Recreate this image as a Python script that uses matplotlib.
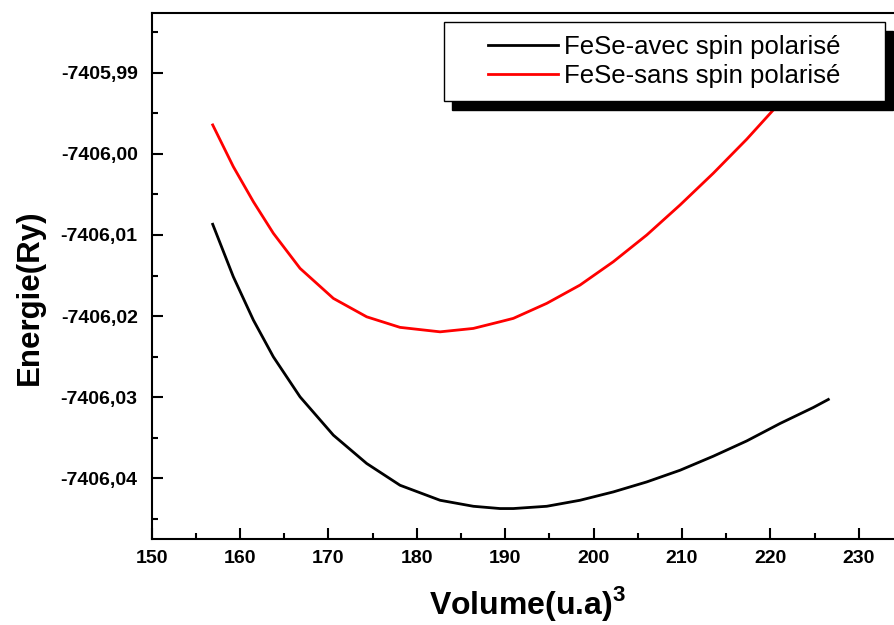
import matplotlib
matplotlib.use("Agg")
import matplotlib.pyplot as plt
from matplotlib.patches import Rectangle
from matplotlib.ticker import MultipleLocator, FuncFormatter

plt.rcParams['font.family'] = ['Liberation Sans', 'DejaVu Sans']
plt.rcParams['mathtext.fontset'] = 'custom'
plt.rcParams['mathtext.bf'] = 'Liberation Sans:bold'
plt.rcParams['mathtext.rm'] = 'Liberation Sans'

# Data (volume in u.a^3, energy in Ry)
vol = [156.92, 159.25, 161.52, 163.78, 166.80, 170.57, 174.34, 178.11, 182.64,
       186.40, 189.42, 190.93, 194.71, 198.47, 202.24, 206.02, 209.79, 213.55,
       217.33]
vol_avec = vol + [221.10, 224.86, 226.56]
e_avec = [-7406.00869, -7406.01515, -7406.02049, -7406.02502, -7406.02995,
          -7406.03467, -7406.03816, -7406.04084, -7406.04269, -7406.04343,
          -7406.04371, -7406.04371, -7406.04343, -7406.04269, -7406.04166,
          -7406.04043, -7406.03899, -7406.03726, -7406.03538, -7406.03323,
          -7406.03126, -7406.03027]

vol_sans = vol + [220.34, 223.50, 226.56]
e_sans = [-7405.99645, -7406.00159, -7406.00591, -7406.00980, -7406.01412,
          -7406.01782, -7406.02009, -7406.02139, -7406.02194, -7406.02152,
          -7406.02070, -7406.02028, -7406.01843, -7406.01618, -7406.01330,
          -7406.01001, -7406.00631, -7406.00240, -7405.99821, -7405.99460,
          -7405.99090, -7405.98700]

labels = ['FeSe-avec spin polarisé', 'FeSe-sans spin polarisé']

fig = plt.figure(figsize=(8.94, 6.25), dpi=100)
ax = fig.add_axes([0.1695, 0.1371, 0.8405, 0.8416])

ax.plot(vol_avec, e_avec, color='black', lw=2.0, label=labels[0], zorder=2)
ax.plot(vol_sans, e_sans, color='red', lw=2.0, label=labels[1], zorder=2)

ax.set_xlim(150, 235)
ax.set_ylim(-7406.0475, -7405.9827)

ax.xaxis.set_major_locator(MultipleLocator(10))
ax.xaxis.set_minor_locator(MultipleLocator(5))
ax.yaxis.set_major_locator(MultipleLocator(0.01))
ax.yaxis.set_minor_locator(MultipleLocator(0.005))
ax.yaxis.set_major_formatter(FuncFormatter(lambda v, p: f'{v:.2f}'.replace('.', ',')))
ax.xaxis.set_major_formatter(FuncFormatter(lambda v, p: f'{v:.0f}'))

ax.tick_params(which='both', direction='in', width=1.5, top=False, right=False)
ax.tick_params(which='major', length=8)
ax.tick_params(which='minor', length=4)
ax.tick_params(axis='y', which='major', pad=10, labelsize=14)
ax.tick_params(axis='x', which='major', pad=8, labelsize=14)
for t in ax.get_xticklabels() + ax.get_yticklabels():
    t.set_fontweight('bold')
for s in ax.spines.values():
    s.set_linewidth(1.5)

ax.set_xlabel(r'Volume(u.a)$^{\mathbf{3}}$', fontsize=23, fontweight='bold')
ax.set_ylabel('Energie(Ry)', fontsize=22.5, fontweight='bold')
ax.xaxis.set_label_coords(0.5, -0.085)
ax.yaxis.set_label_coords(-0.142, 0.46)

# legend box with black drop shadow
bx, by, bw, bh = 444 / 894, 1 - 101 / 625, 441 / 894, 79 / 625
ax.add_patch(Rectangle((bx + 8 / 894, by - 9 / 625), bw, bh, transform=fig.transFigure,
                       facecolor='black', edgecolor='black', zorder=5, clip_on=False))
ax.add_patch(Rectangle((bx, by), bw, bh, transform=fig.transFigure,
                       facecolor='white', edgecolor='black', lw=1, zorder=6, clip_on=False))
leg = ax.legend(loc='center', bbox_to_anchor=(bx + bw / 2, by + bh / 2),
                bbox_transform=fig.transFigure, frameon=False, fontsize=18.5,
                handlelength=2.7, handletextpad=0.25, labelspacing=0.2, borderpad=0)
leg.set_zorder(7)

fig.savefig('out.png', dpi=100)
